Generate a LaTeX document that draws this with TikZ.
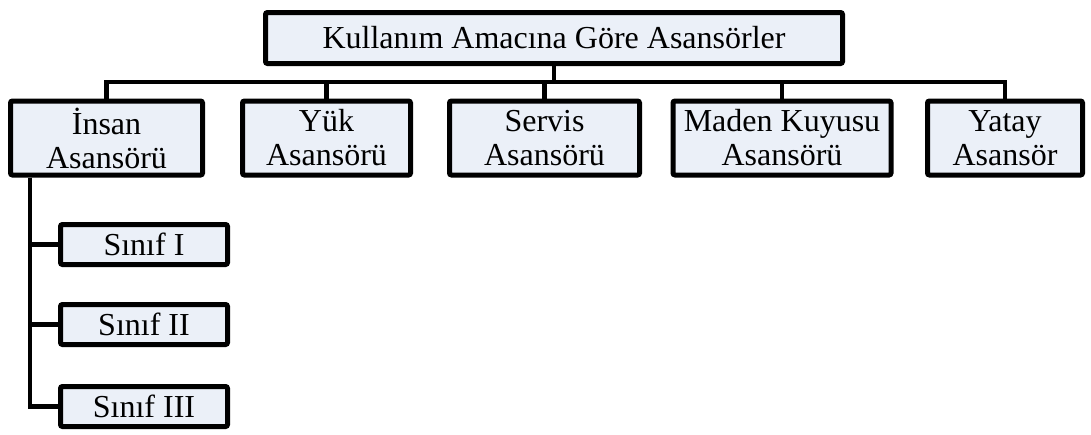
\documentclass[tikz,border=0pt]{standalone}
\usepackage{fontspec}
\setmainfont{Liberation Serif}
\definecolor{kutuFill}{RGB}{235, 240, 248}
\tikzset{
  kutu/.style={draw, line width=5pt, rounded corners=2pt, fill=kutuFill,
    align=center, inner sep=0pt, font=\fontsize{32}{34}\selectfont},
  baglanti/.style={line width=4.5pt},
}
\begin{document}
\begin{tikzpicture}[x=1pt, y=-1pt]
\useasboundingbox (0,0) rectangle (1091,434);
\node (ana) at (554,38) [kutu, minimum width=577, minimum height=51] {Kullanım Amacına Göre Asansörler};
\node (insan) at (106.5,138) [kutu, minimum width=192, minimum height=74] {İnsan\\Asansörü};
\node (yuk) at (326.5,138) [kutu, minimum width=168, minimum height=74] {Yük\\Asansörü};
\node (servis) at (544.5,138) [kutu, minimum width=190, minimum height=74] {Servis\\Asansörü};
\node (maden) at (782,138) [kutu, minimum width=218, minimum height=74] {Maden Kuyusu\\Asansörü};
\node (yatay) at (1005,138) [kutu, minimum width=155, minimum height=74] {Yatay\\Asansör};
\node (sinif1) at (144,244.5) [kutu, minimum width=167, minimum height=40] {Sınıf I};
\node (sinif2) at (144,324.5) [kutu, minimum width=167, minimum height=40] {Sınıf II};
\node (sinif3) at (144,406.5) [kutu, minimum width=167, minimum height=40] {Sınıf III};
\coordinate (bus) at (554,82);
\coordinate (spine) at (30,0);
\foreach \k in {insan,yuk,servis,maden,yatay}
  \draw[baglanti] (ana.south) -- (bus) -| (\k.north);
\foreach \s in {sinif1,sinif2,sinif3}
  \draw[baglanti] (spine |- insan.south) |- (\s.west);
\end{tikzpicture}
\end{document}
